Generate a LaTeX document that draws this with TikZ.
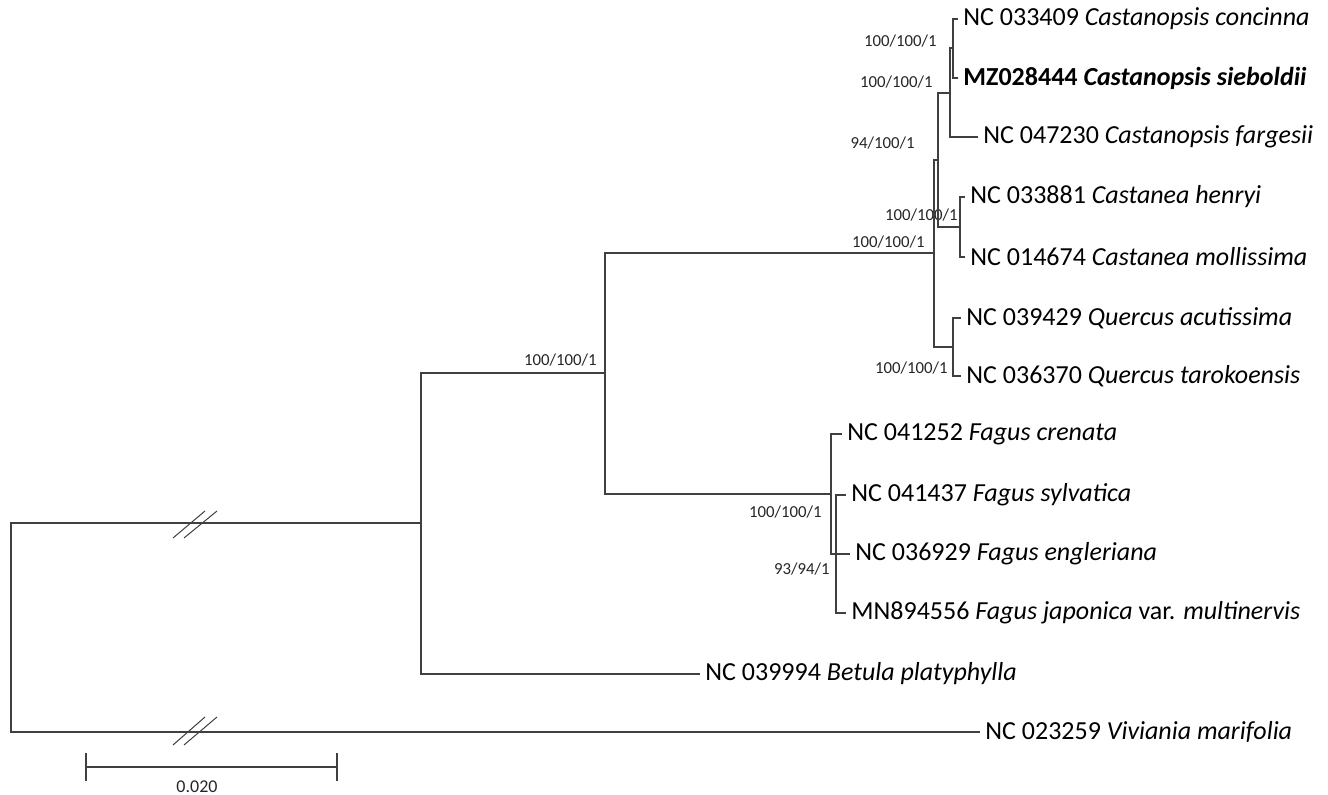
\documentclass[tikz,border=0pt]{standalone}
\usepackage{fontspec}
\setmainfont{Carlito}
\begin{document}
\begin{tikzpicture}[x=0.5pt,y=-0.5pt]
        \tikzstyle{branch} = [draw=black!75,line width=.75pt]
        \tikzstyle{leaf} = [anchor=west,inner sep=2.5pt,text=black,font=\fontsize{13}{15}\selectfont]
        \tikzstyle{support} = [anchor=east,inner sep=0pt,text=black!85,font=\fontsize{8.4}{9}\selectfont]
        \useasboundingbox (0,0) rectangle (1328,795);
        % internal nodes
        \coordinate (root) at (11,627.5);
        \coordinate (ingroup) at (421,523);
        \coordinate (fagaceae) at (605,373);
        \coordinate (castaneoid) at (934,253);
        \coordinate (castanB) at (938,160);
        \coordinate (castanopsis) at (950,93);
        \coordinate (conc) at (953,48);
        \coordinate (castanea) at (960,227);
        \coordinate (quercus) at (953,347);
        \coordinate (fagus) at (831,494);
        \coordinate (fagusB) at (836,554);
        % tips
        \node[leaf] (concinna) at (958,19) {NC 033409 \textit{Castanopsis concinna}};
        \node[leaf] (sieboldii) at (958,78) {\textbf{MZ028444 \textit{Castanopsis sieboldii}}};
        \node[leaf] (fargesii) at (978,137) {NC 047230 \textit{Castanopsis fargesii}};
        \node[leaf] (henryi) at (965,197) {NC 033881 \textit{Castanea henryi}};
        \node[leaf] (mollissima) at (965,257) {NC 014674 \textit{Castanea mollissima}};
        \node[leaf] (acutissima) at (961,318) {NC 039429 \textit{Quercus acutissima}};
        \node[leaf] (tarokoensis) at (961,376) {NC 036370 \textit{Quercus tarokoensis}};
        \node[leaf] (crenata) at (842,434) {NC 041252 \textit{Fagus crenata}};
        \node[leaf] (sylvatica) at (846,495) {NC 041437 \textit{Fagus sylvatica}};
        \node[leaf] (engleriana) at (850,554) {NC 036929 \textit{Fagus engleriana}};
        \node[leaf] (japonica) at (846,613) {MN894556 \textit{Fagus japonica} var. \textit{multinervis}};
        \node[leaf] (betula) at (700,674) {NC 039994 \textit{Betula platyphylla}};
        \node[leaf] (viviania) at (980,732) {NC 023259 \textit{Viviania marifolia}};
        % support values
        \node[support] (sConc) at (937,41) {100/100/1};
        \node[support] (sCastanopsis) at (933,82) {100/100/1};
        \node[support] (sCastanB) at (915,143) {94/100/1};
        \node[support] (sCastanea) at (958,215) {100/100/1};
        \node[support] (sCastaneoid) at (925,242) {100/100/1};
        \node[support] (sQuercus) at (948,368) {100/100/1};
        \node[support] (sFagaceae) at (597,360) {100/100/1};
        \node[support] (sFagus) at (822,512) {100/100/1};
        \node[support] (sFagusB) at (830,569) {93/94/1};
        % branches
        \draw[branch] (root) |- (ingroup);
        \draw[branch] (root) |- (viviania);
        \draw[branch] (ingroup) |- (fagaceae);
        \draw[branch] (ingroup) |- (betula);
        \draw[branch] (fagaceae) |- (castaneoid);
        \draw[branch] (fagaceae) |- (fagus);
        \draw[branch] (castaneoid) |- (castanB);
        \draw[branch] (castaneoid) |- (quercus);
        \draw[branch] (castanB) |- (castanopsis);
        \draw[branch] (castanB) |- (castanea);
        \draw[branch] (castanopsis) |- (conc);
        \draw[branch] (castanopsis) |- (fargesii);
        \draw[branch] (conc) |- (concinna);
        \draw[branch] (conc) |- (sieboldii);
        \draw[branch] (castanea) |- (henryi);
        \draw[branch] (castanea) |- (mollissima);
        \draw[branch] (quercus) |- (acutissima);
        \draw[branch] (quercus) |- (tarokoensis);
        \draw[branch] (fagus) |- (crenata);
        \draw[branch] (fagus) |- (fagusB);
        \draw[branch] (fagusB) |- (sylvatica);
        \draw[branch] (fagusB) -- (engleriana);
        \draw[branch] (fagusB) |- (japonica);
        % breaks on the long branches
        \draw[black!75,line width=.5pt] (173,538) -- (205,511) (184,538) -- (217,511);
        \draw[black!75,line width=.5pt] (173,745) -- (205,717) (184,745) -- (217,717);
        % scale bar
        \coordinate (sbL) at (86,767);
        \coordinate (sbR) at (337,767);
        \draw[branch] (sbL) -- (sbR);
        \draw[branch] ([yshift=-7]sbL) -- ([yshift=7]sbL);
        \draw[branch] ([yshift=-7]sbR) -- ([yshift=7]sbR);
        \node[font=\fontsize{9}{10}\selectfont,text=black!85] (scale) at (197,787) {0.020};
\end{tikzpicture}
\end{document}
